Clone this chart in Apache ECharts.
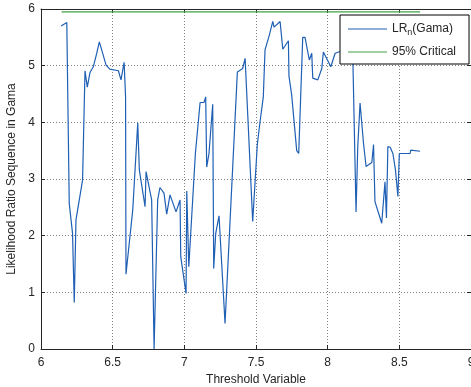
<!DOCTYPE html>
<html>
<head>
<meta charset="utf-8">
<script src="https://cdn.jsdelivr.net/npm/echarts@6/dist/echarts.min.js"></script>
<style>
  html, body { margin: 0; padding: 0; background: #fff; }
  #chart { width: 471px; height: 387px; }
</style>
</head>
<body>
<div id="chart"></div>
<script>
// LR_n(Gama) sequence
const thresholdX = [
  6.14, 6.18, 6.197, 6.22, 6.232, 6.244, 6.29, 6.307, 6.323, 6.342, 6.365, 6.389, 6.407, 6.43, 6.454, 6.48,
  6.54, 6.558, 6.58, 6.59, 6.593, 6.64, 6.675, 6.686, 6.726, 6.733, 6.772, 6.789, 6.814, 6.83, 6.858, 6.877,
  6.89, 6.9, 6.942, 6.97, 6.975, 7.012, 7.017, 7.031, 7.077, 7.11, 7.137, 7.149, 7.156, 7.172, 7.198, 7.205,
  7.219, 7.242, 7.284, 7.37, 7.389, 7.407, 7.424, 7.477, 7.509, 7.528, 7.551, 7.563, 7.593, 7.617, 7.626,
  7.668, 7.687, 7.726, 7.73, 7.749, 7.784, 7.798, 7.826, 7.842, 7.872, 7.889, 7.896, 7.931, 7.959, 7.97,
  8.022, 8.052, 8.087, 8.13, 8.175, 8.198, 8.21, 8.226, 8.238, 8.25, 8.268, 8.308, 8.319, 8.32, 8.33, 8.377,
  8.40, 8.41, 8.42, 8.436, 8.455, 8.473, 8.49, 8.5, 8.575, 8.58, 8.645
]
const lrValues = [
  5.70, 5.76, 2.57, 2.04, 0.82, 2.28, 2.98, 4.91, 4.62, 4.88, 4.98, 5.22, 5.42, 5.22, 5.01, 4.94,
  4.91, 4.75, 5.06, 4.45, 1.32, 2.45, 3.99, 3.16, 2.51, 3.13, 2.63, 0.0, 2.63, 2.85, 2.75, 2.38,
  2.36, 2.72, 2.42, 2.63, 1.63, 0.98, 2.79, 1.45, 3.45, 4.35, 4.35, 4.45, 3.21, 3.45, 4.32, 1.42,
  2.04, 2.35, 0.45, 4.89, 4.92, 4.95, 5.13, 2.25, 3.60, 4.01, 4.45, 5.28, 5.54, 5.78, 5.68,
  5.78, 5.29, 5.44, 4.82, 4.48, 3.50, 3.45, 5.50, 5.50, 5.10, 5.22, 4.78, 4.75, 4.95, 5.24,
  4.98, 5.22, 5.25, 5.30, 5.20, 2.42, 3.57, 4.34, 4.36, 3.63, 3.22, 3.29, 3.31, 3.61, 2.60, 2.22,
  2.95, 2.31, 3.57, 3.56, 3.45, 3.16, 2.69, 3.45, 3.45, 3.51, 3.49
]
const criticalX = [6.144, 8.645]
const criticalValue = 5.95

const chart = echarts.init(document.getElementById('chart'))

const font = '"Liberation Sans", Arial, Helvetica, sans-serif'
const axisColor = '#262626'

const lrData = thresholdX.map((x, i) => [x, lrValues[i]])
const critData = criticalX.map(x => [x, criticalValue])

const baseAxis = {
  axisLine: { show: true, onZero: false, lineStyle: { color: axisColor, width: 1 } },
  axisTick: { show: true, inside: true, length: 4, lineStyle: { color: axisColor } },
  axisLabel: { color: '#262626', fontFamily: font, fontSize: 12 },
  nameTextStyle: { color: '#262626', fontFamily: font, fontSize: 12 }
}
const gridLine = { show: true, lineStyle: { color: '#808080', type: [1, 2], width: 1 } }

chart.setOption({
  animation: false,
  backgroundColor: '#fff',
  grid: { left: 41, right: 0, top: 9, bottom: 38, containLabel: false, outerBoundsMode: 'none' },
  legend: {
    orient: 'vertical',
    left: 340, top: 15,
    padding: [8, 13, 6, 8],
    itemGap: 9,
    itemWidth: 39,
    itemHeight: 1,
    icon: 'rect',
    backgroundColor: '#fff',
    borderColor: '#000',
    borderWidth: 1,
    borderRadius: 0,
    textStyle: {
      fontFamily: font, fontSize: 12, color: '#262626',
      rich: {
        t: { fontFamily: font, fontSize: 12, color: '#262626' },
        s: { fontFamily: font, fontSize: 9, color: '#262626', padding: [7, 0, 0, 0] }
      }
    },
    formatter: name => name === 'LRn' ? '{t|LR}{s|n}{t|(Gama)}' : '{t|' + name + '}',
    data: ['LRn', '95% Critical']
  },
  xAxis: [
    Object.assign({}, baseAxis, {
      type: 'value', min: 6, max: 9, interval: 0.5,
      name: 'Threshold Variable', nameLocation: 'middle', nameGap: 22,
      axisLabel: Object.assign({}, baseAxis.axisLabel, { margin: 8 }),
      splitLine: gridLine
    }),
    Object.assign({}, baseAxis, {
      type: 'value', min: 6, max: 9, interval: 0.5, position: 'top',
      axisLabel: { show: false }, splitLine: { show: false }
    })
  ],
  yAxis: [
    Object.assign({}, baseAxis, {
      type: 'value', min: 0, max: 6, interval: 1,
      name: 'Likelihood Ratio Sequence in Gama', nameLocation: 'middle', nameGap: 20,
      axisLabel: Object.assign({}, baseAxis.axisLabel, { margin: 6 }),
      splitLine: gridLine
    }),
    Object.assign({}, baseAxis, {
      type: 'value', min: 0, max: 6, interval: 1, position: 'right',
      axisLabel: { show: false }, splitLine: { show: false }
    })
  ],
  series: [
    {
      name: 'LRn', type: 'line', data: lrData,
      symbol: 'none', lineStyle: { color: '#1f5fb4', width: 1.2 },
      itemStyle: { color: '#1f5fb4' }, z: 3
    },
    {
      name: '95% Critical', type: 'line', data: critData,
      symbol: 'none', lineStyle: { color: '#43a047', width: 1.2 },
      itemStyle: { color: '#43a047' }, z: 3
    }
  ]
})
</script>
</body>
</html>
